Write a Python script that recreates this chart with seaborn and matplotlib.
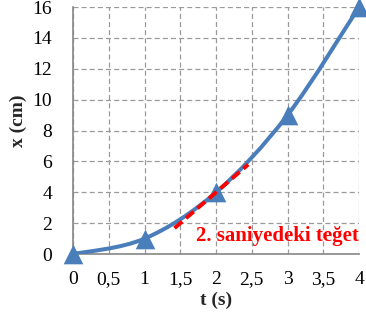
import numpy as np
import matplotlib
matplotlib.use("Agg")
from matplotlib import pyplot as plt
from matplotlib.path import Path
from matplotlib.patches import PathPatch
from matplotlib.ticker import FuncFormatter, MultipleLocator
import seaborn as sns

# data: x = t^2
t_values = [0, 1, 2, 3, 4]
x_values = [0, 1, 4, 9, 16]

# tangent at t = 2 s
tangent_t = 2
tangent_x = 4
tangent_slope = 4
tangent_span = [1.42, 2.45]
tangent_label = "2. saniyedeki teğet"

x_ticks = [0, 0.5, 1, 1.5, 2, 2.5, 3, 3.5, 4]
y_ticks = [0, 2, 4, 6, 8, 10, 12, 14, 16]

blue = "#4a7ebb"
red = "#ff0000"
grid_gray = "#9a9a9a"

sns.set_style("white")
plt.rcParams["font.family"] = ["Liberation Serif", "DejaVu Serif"]

fig = plt.figure(figsize=(3.66, 3.2), dpi=100)
ax = fig.add_axes([0.1995, 0.206, 0.7815, 0.772])


def smooth_path(xs, ys):
    # Excel-like smoothed line: Catmull-Rom turned into cubic Bezier pieces
    pts = np.column_stack([xs, ys]).astype(float)
    pad = np.vstack([pts[0], pts, pts[-1]])
    verts = [pts[0]]
    codes = [Path.MOVETO]
    for i in range(1, len(pad) - 2):
        p0, p1, p2, p3 = pad[i - 1], pad[i], pad[i + 1], pad[i + 2]
        verts += [p1 + (p2 - p0) / 6, p2 - (p3 - p1) / 6, p2]
        codes += [Path.CURVE4] * 3
    return Path(verts, codes)


ax.add_patch(PathPatch(smooth_path(t_values, x_values), facecolor="none",
                       edgecolor=blue, lw=2.9, zorder=3, capstyle="round"))
sns.scatterplot(x=t_values, y=x_values, marker="^", s=200, color=blue,
                edgecolor=blue, linewidth=0, ax=ax, zorder=4, clip_on=False)

tx = np.array(tangent_span)
ax.plot(tx, tangent_x + tangent_slope * (tx - tangent_t), color=red,
        lw=2.8, ls=(0, (2.6, 1.3)), zorder=5)
ax.text(1.72, 1.15, tangent_label, color=red, fontsize=15,
        fontweight="bold", va="center", ha="left", zorder=6)

ax.set_xlim(0, 4)
ax.set_ylim(0, 16)
ax.set_xticks(x_ticks)
ax.set_yticks(y_ticks)
ax.yaxis.set_minor_locator(MultipleLocator(1))
ax.xaxis.set_major_formatter(FuncFormatter(lambda v, p: f"{v:g}".replace(".", ",")))
ax.tick_params(axis="both", which="major", labelsize=14, length=0, pad=12,
               colors="black")
ax.tick_params(axis="y", which="major", pad=15)
ax.tick_params(axis="y", which="minor", direction="in", length=4,
               color="#868686", width=1)

ax.grid(True, which="major", color=grid_gray, ls=(0, (4, 2.5)), lw=0.9)
ax.set_axisbelow(True)
for side in ["top", "right"]:
    ax.spines[side].set_visible(False)
for side in ["left", "bottom"]:
    ax.spines[side].set_color("#868686")
    ax.spines[side].set_linewidth(1.2)

ax.set_xlabel("t (s)", fontsize=14, fontweight="bold", labelpad=3)
ax.set_ylabel("x (cm)", fontsize=14, fontweight="bold")
ax.yaxis.set_label_coords(-0.16, 0.54)

fig.savefig("out.png", dpi=100)
